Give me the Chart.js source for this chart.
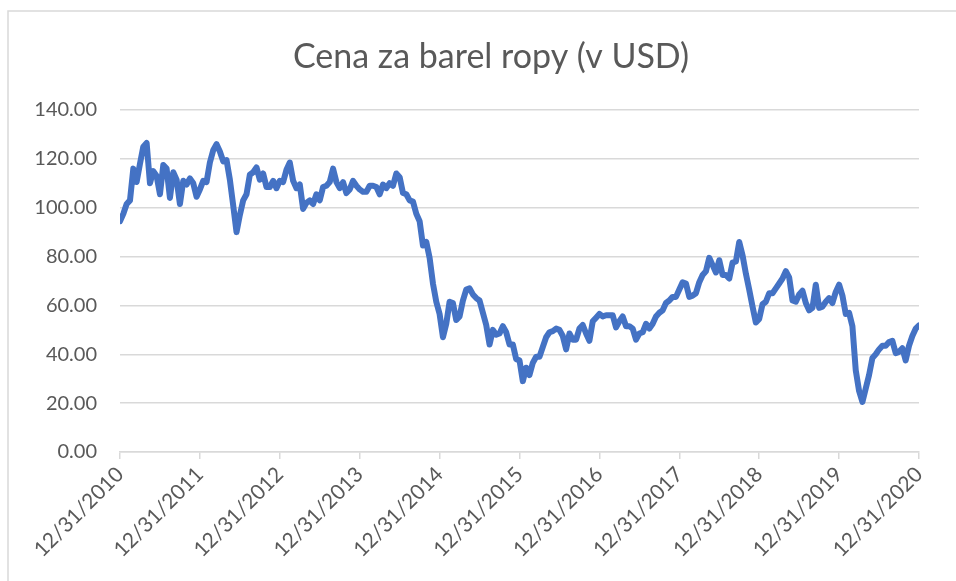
<!DOCTYPE html>
<html>
<head>
<meta charset="utf-8">
<title>Cena za barel ropy</title>
<script src="https://cdn.jsdelivr.net/npm/chart.js@4.4.0/dist/chart.umd.min.js"></script>
<style>
    html, body { margin: 0; padding: 0; background: #ffffff; }
    canvas { display: block; }
</style>
</head>
<body>
<canvas id="oil-chart" width="956" height="581"></canvas>
<script>
// half-monthly Brent price readings, 1st and 15th of each month, Jan 2011 .. Dec 2020
const pointsPerYear = 24;
const chartTitle = 'Cena za barel ropy (v USD)';
const yearLabels = ['12/31/2010', '12/31/2011', '12/31/2012', '12/31/2013', '12/31/2014',
    '12/31/2015', '12/31/2016', '12/31/2017', '12/31/2018', '12/31/2019', '12/31/2020'];
const yTicks = [0, 20, 40, 60, 80, 100, 120, 140];

const prices2011 = [94.5, 97.5, 101.5, 103.0, 116.0, 110.5, 118.0, 125.0, 126.5, 110.0, 115.0, 113.0,
    105.5, 117.5, 116.0, 104.0, 114.5, 111.5, 101.5, 111.0, 109.5, 112.0, 110.0, 104.5];
const prices2012 = [107.5, 111.0, 110.5, 118.5, 123.5, 126.0, 123.0, 119.0, 119.5, 111.5, 101.0, 90.0,
    97.0, 103.0, 105.5, 113.5, 114.5, 116.5, 111.5, 114.0, 108.5, 108.5, 111.0, 108.0];
const prices2013 = [111.0, 110.5, 115.5, 118.5, 111.0, 108.0, 109.5, 99.5, 102.0, 103.0, 101.5, 105.5,
    103.0, 108.5, 109.0, 110.5, 116.0, 110.5, 108.0, 110.5, 106.0, 107.5, 111.0, 109.0];
const prices2014 = [107.5, 106.5, 106.5, 109.0, 109.0, 108.5, 105.5, 109.5, 108.0, 110.0, 109.0, 114.0,
    112.5, 106.0, 105.5, 103.0, 102.5, 97.5, 94.5, 84.5, 86.0, 79.5, 69.0, 61.5];
const prices2015 = [56.5, 47.0, 52.5, 61.5, 61.0, 54.0, 55.5, 62.0, 66.5, 67.0, 64.5, 63.0,
    62.0, 57.0, 52.0, 44.0, 50.0, 48.0, 48.5, 51.5, 49.0, 44.0, 44.0, 38.0];
const prices2016 = [37.5, 29.0, 34.5, 31.5, 36.5, 39.0, 39.0, 43.0, 47.0, 49.0, 49.5, 50.5,
    50.0, 47.5, 42.0, 48.5, 46.0, 46.0, 50.5, 52.0, 48.5, 45.5, 53.5, 55.0];
const prices2017 = [56.5, 55.5, 56.0, 56.0, 56.0, 51.0, 53.5, 55.5, 51.5, 51.5, 50.5, 46.0,
    48.5, 49.0, 52.5, 50.5, 52.5, 55.5, 57.0, 58.0, 61.0, 62.0, 63.5, 63.5];
const prices2018 = [66.5, 69.5, 69.0, 63.5, 64.0, 65.0, 69.5, 72.5, 74.0, 79.5, 76.5, 73.5,
    78.5, 72.5, 72.5, 71.0, 77.5, 78.0, 86.0, 80.5, 73.0, 66.5, 59.5, 53.0];
const prices2019 = [54.5, 60.5, 61.5, 65.0, 65.0, 67.0, 69.0, 71.0, 74.0, 71.5, 62.0, 61.5,
    64.5, 66.0, 61.0, 58.0, 59.0, 68.5, 59.0, 59.5, 61.5, 63.0, 61.0, 65.5];
const prices2020 = [68.5, 64.0, 56.5, 57.0, 51.5, 33.5, 25.0, 20.5, 26.0, 31.5, 38.5, 40.0,
    42.0, 43.5, 43.5, 45.0, 45.5, 40.5, 41.0, 42.5, 37.5, 43.5, 47.5, 50.5, 51.8];

const prices = [].concat(prices2011, prices2012, prices2013, prices2014, prices2015,
    prices2016, prices2017, prices2018, prices2019, prices2020);

const textColor = '#595959';
const gridColor = '#d9d9d9';
const fontFamily = 'Lato, "Open Sans", sans-serif';

// white background, outer frame (top + left edges visible) and the title,
// which in the original sits a bit right of the canvas centre
const framePlugin = {
    id: 'frame',
    beforeDraw(chart) {
        const ctx = chart.ctx;
        ctx.save();
        ctx.fillStyle = '#ffffff';
        ctx.fillRect(0, 0, chart.width, chart.height);
        ctx.strokeStyle = gridColor;
        ctx.lineWidth = 1.5;
        ctx.beginPath();
        ctx.moveTo(8, chart.height);
        ctx.lineTo(8, 11);
        ctx.lineTo(chart.width, 11);
        ctx.stroke();

        ctx.fillStyle = textColor;
        ctx.font = '34px ' + fontFamily;
        ctx.textAlign = 'center';
        ctx.textBaseline = 'middle';
        ctx.fillText(chartTitle, 491, 57);
        ctx.restore();
    }
};

const ctx = document.getElementById('oil-chart').getContext('2d');
new Chart(ctx, {
    type: 'line',
    data: {
        datasets: [{
            label: 'Cena',
            data: prices.map((p, i) => ({ x: i, y: p })),
            borderColor: '#4472c4',
            borderWidth: 6,
            borderJoinStyle: 'round',
            borderCapStyle: 'round',
            pointRadius: 0,
            tension: 0,
            fill: false
        }]
    },
    options: {
        responsive: false,
        animation: false,
        layout: {
            padding: { left: 0, right: 37, top: 110, bottom: 0 }
        },
        plugins: {
            legend: { display: false },
            tooltip: { enabled: false },
            title: { display: false }
        },
        scales: {
            x: {
                type: 'linear',
                min: 0,
                max: (yearLabels.length - 1) * pointsPerYear,
                afterFit(scale) {
                    scale.height = 129;
                    scale.paddingLeft = 0;
                    scale.paddingRight = 0;
                },
                afterBuildTicks(scale) {
                    scale.ticks = yearLabels.map((l, i) => ({ value: i * pointsPerYear }));
                },
                ticks: {
                    autoSkip: false,
                    maxRotation: 45,
                    minRotation: 45,
                    padding: 3,
                    color: textColor,
                    font: { family: fontFamily, size: 21 },
                    callback: (v) => yearLabels[Math.round(v / pointsPerYear)]
                },
                grid: {
                    drawOnChartArea: false,
                    drawTicks: true,
                    tickLength: 7,
                    color: gridColor,
                    lineWidth: 1.5
                },
                border: { display: true, color: gridColor, width: 1.5 }
            },
            y: {
                min: yTicks[0],
                max: yTicks[yTicks.length - 1],
                afterFit(scale) {
                    scale.width = 120;
                },
                afterBuildTicks(scale) {
                    scale.ticks = yTicks.map(v => ({ value: v }));
                },
                ticks: {
                    padding: 23,
                    color: textColor,
                    font: { family: fontFamily, size: 20 },
                    callback: (v) => v.toFixed(2)
                },
                grid: {
                    drawTicks: false,
                    color: gridColor,
                    lineWidth: 1.5
                },
                border: { display: false }
            }
        }
    },
    plugins: [framePlugin]
});
</script>
</body>
</html>
